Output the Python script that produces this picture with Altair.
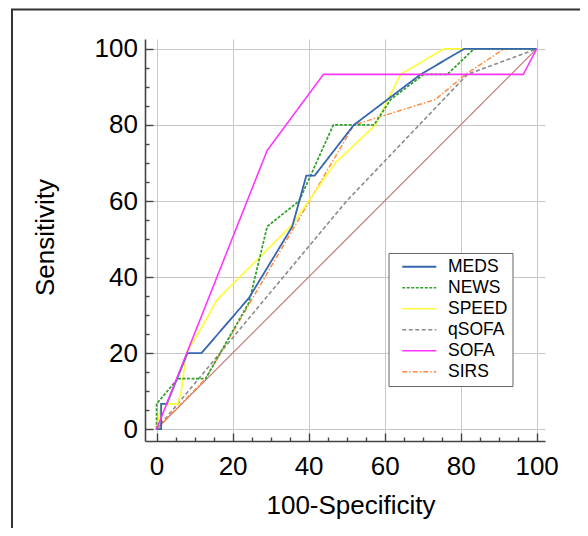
import altair as alt
import pandas as pd

series = ["MEDS", "NEWS", "SPEED", "qSOFA", "SOFA", "SIRS"]
colors = ["#3566b0", "#33a02c", "#fcfc3a", "#8c8c8c", "#ff33ff", "#ff8c40"]
dashes = [[1, 0], [3, 1.5], [1, 0], [4, 2.5], [1, 0], [5, 2, 1.5, 2]]
widths = [1.8, 1.5, 1.2, 1.0, 1.8, 1.2]
draw_order = ["qSOFA", "SIRS", "SPEED", "NEWS", "MEDS", "SOFA"]

meds_x = [0, 1.2, 1.2, 2.7, 8.1, 11.8, 24.3, 35.7, 39.4, 41.6, 51.9, 69.5, 80.9, 100]
meds_y = [0, 0, 6.67, 6.67, 20, 20, 34.5, 53.3, 66.7, 66.7, 80, 93.3, 100, 100]
news_x = [0, 0, 5.6, 12.9, 24.3, 29.1, 37.5, 46.5, 57.2, 61.6, 70.3, 76.5, 83.5, 100]
news_y = [0, 6.67, 13.3, 13.3, 33.3, 53.3, 60, 80, 80, 86.7, 93.3, 93.3, 100, 100]
speed_x = [0, 1.2, 5.6, 6.5, 7.8, 12, 15.9, 22.1, 28.2, 35.7, 47, 57.6, 64.2, 75.6, 100]
speed_y = [0, 6.67, 6.67, 10, 20, 27, 34, 40.2, 46.3, 53.8, 70, 80, 93.3, 100, 100]
qsofa_x = [0, 50, 81.8, 100]
qsofa_y = [0, 60, 93.3, 100]
sofa_x = [0, 29.1, 43.9, 96.5, 100]
sofa_y = [0, 73.3, 93.3, 93.3, 100]
sirs_x = [0, 12.9, 51.9, 73.4, 81.3, 91.4, 100]
sirs_y = [0, 13.3, 80, 86.7, 93.3, 100, 100]
ref_x = [0, 100]
ref_y = [0, 100]

xy = {
    "MEDS": (meds_x, meds_y),
    "NEWS": (news_x, news_y),
    "SPEED": (speed_x, speed_y),
    "qSOFA": (qsofa_x, qsofa_y),
    "SOFA": (sofa_x, sofa_y),
    "SIRS": (sirs_x, sirs_y),
}

rows = []
for s in draw_order:
    xs_, ys_ = xy[s]
    for i, (a, b) in enumerate(zip(xs_, ys_)):
        rows.append({"series": s, "x": a, "y": b, "idx": i})
df = pd.DataFrame(rows)
ref_df = pd.DataFrame({"x": ref_x, "y": ref_y, "idx": [0, 1]})

FONT = "Liberation Sans"
xdom = [-3.05, 102.2]
ydom = [-3.1, 102.6]
ticks5 = list(range(0, 101, 5))
major = "datum.value % 20 === 0"

xaxis = alt.Axis(
    values=ticks5,
    labelExpr=f"{major} ? datum.label : ''",
    tickSize=alt.ExprRef(f"{major} ? -8 : -4"),
    gridOpacity=alt.ExprRef(f"{major} ? 1 : 0"),
    labelPadding=20,
    labelFontSize=26,
    labelFont=FONT,
    labelColor="#000000",
    title="100-Specificity",
    titleFontSize=26,
    titleFont=FONT,
    titleFontWeight="normal",
    titleColor="#000000",
    titleX=205.5,
    titleY=64,
    titleAlign="center",
    titleBaseline="middle",
)
yaxis = alt.Axis(
    values=ticks5,
    labelExpr=f"{major} ? datum.label : ''",
    tickSize=alt.ExprRef(f"{major} ? -8 : -4"),
    gridOpacity=alt.ExprRef(f"{major} ? 1 : 0"),
    labelPadding=15.5,
    labelFontSize=26,
    labelFont=FONT,
    labelColor="#000000",
    title="Sensitivity",
    titleFontSize=26,
    titleFont=FONT,
    titleFontWeight="normal",
    titleColor="#000000",
    titleX=-99.5,
    titleY=198,
    titleAngle=270,
    titleAlign="center",
    titleBaseline="middle",
)

xs = alt.Scale(domain=xdom, nice=False, zero=False)
ys = alt.Scale(domain=ydom, nice=False, zero=False)

ref = alt.Chart(ref_df).mark_line(color="#c0706a", strokeWidth=1.1).encode(
    x=alt.X("x:Q", scale=xs, axis=xaxis),
    y=alt.Y("y:Q", scale=ys, axis=yaxis),
    order="idx:Q",
)

lines = alt.Chart(df).mark_line().encode(
    x=alt.X("x:Q", scale=xs, axis=xaxis),
    y=alt.Y("y:Q", scale=ys, axis=yaxis),
    order="idx:Q",
    color=alt.Color(
        "series:N",
        scale=alt.Scale(domain=series, range=colors),
        legend=alt.Legend(
            title=None,
            orient="none",
            legendX=243.5,
            legendY=214,
            strokeColor="#666666",
            fillColor="#ffffff",
            padding=5,
            symbolType="M0,0H6.8",
            symbolSize=100,
            labelOffset=37,
            labelFontSize=17.5,
            labelFont=FONT,
            labelColor="#000000",
            labelExpr="datum.label + '   '",
            rowPadding=2,
        ),
    ),
    strokeDash=alt.StrokeDash(
        "series:N", scale=alt.Scale(domain=series, range=dashes), legend=None
    ),
    strokeWidth=alt.StrokeWidth(
        "series:N", scale=alt.Scale(domain=series, range=widths), legend=None
    ),
)

frame = alt.Chart(pd.DataFrame({"a": [0]})).mark_rect(
    fill="transparent", stroke="#333333", strokeWidth=2
).encode(
    x=alt.value(-133), x2=alt.value(700), y=alt.value(-29.5), y2=alt.value(800)
)

chart = alt.layer(ref, lines, frame).properties(
    width=400,
    height=402,
    autosize=alt.AutoSizeParams(type="none"),
    padding={"left": 137, "top": 31, "right": 35, "bottom": 87},
).configure_view(stroke=None).configure_axis(
    gridColor="#c8c8c8",
    gridWidth=1,
    domainColor="#444444",
    domainWidth=1.6,
    tickColor="#444444",
    tickWidth=1.4,
)

chart.save("out.html", embed_options={"renderer": "svg", "actions": False})
